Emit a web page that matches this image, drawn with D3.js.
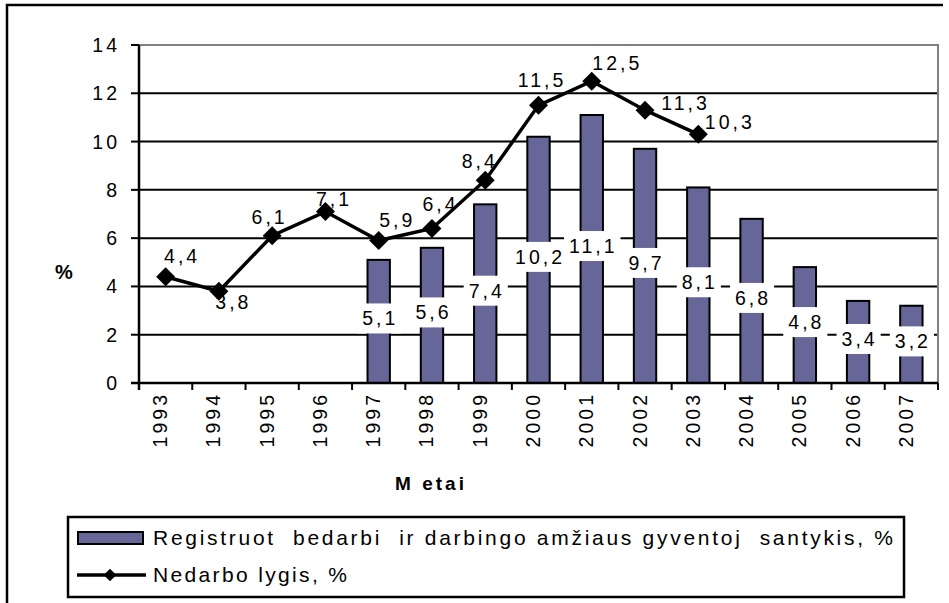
<!DOCTYPE html>
<html>
<head>
<meta charset="utf-8">
<script src="https://cdn.jsdelivr.net/npm/d3@7"></script>
<style>
  body { margin: 0; background: #fff; }
  svg { display: block; font-family: "Liberation Sans", Arial, sans-serif; }
  .num { font-size: 19.5px; letter-spacing: 3px; fill: #000; }
</style>
</head>
<body>
<svg id="chart" width="949" height="603"></svg>
<script>
// data
const years = ["1993","1994","1995","1996","1997","1998","1999","2000","2001","2002","2003","2004","2005","2006","2007"];
const ratio = [null, null, null, null, 5.1, 5.6, 7.4, 10.2, 11.1, 9.7, 8.1, 6.8, 4.8, 3.4, 3.2];
const unemployment = [4.4, 3.8, 6.1, 7.1, 5.9, 6.4, 8.4, 11.5, 12.5, 11.3, 10.3, null, null, null, null];
const yTicks = [0, 2, 4, 6, 8, 10, 12, 14];
const seriesNames = ["Registruot  bedarbi  ir darbingo amžiaus gyventoj  santykis, %", "Nedarbo lygis, %"];

// where each line label sits relative to its marker (as Excel placed them)
const lineLabelNudge = [[15,-21],[13,11],[-4,-19],[7,-13],[17,-21],[7,-25],[-7,-19],[2,-25],[24,-18],[39,-7],[30,-12]];

const fmt = v => String(v).replace(".", ",");
const barColor = "#666699";

const svg = d3.select("#chart");
const plot = { left: 139, top: 45, right: 938, bottom: 383 };

const x = d3.scaleBand().domain(years).range([plot.left, plot.right]);
const y = d3.scaleLinear().domain([0, 14]).range([plot.bottom, plot.top]);

// outer frame (left + top only are visible)
svg.append("path")
  .attr("d", "M7,603V5H943")
  .attr("fill", "none").attr("stroke", "#000").attr("stroke-width", 2.5);

// gridlines
svg.append("g").selectAll("line")
  .data(yTicks.filter(t => t > 0 && t < 14))
  .join("line")
    .attr("x1", plot.left).attr("x2", plot.right)
    .attr("y1", d => y(d)).attr("y2", d => y(d))
    .attr("stroke", "#000").attr("stroke-width", 2);

// plot area frame top / right (gray)
svg.append("path")
  .attr("d", `M${plot.left},${y(14)}H${plot.right}V${plot.bottom}`)
  .attr("fill", "none").attr("stroke", "#808080").attr("stroke-width", 2);

// bars
const barW = x.bandwidth() * 0.42;
const barData = years.map((yr, i) => ({ yr, v: ratio[i] })).filter(d => d.v != null);
svg.append("g").selectAll("rect")
  .data(barData)
  .join("rect")
    .attr("x", d => x(d.yr) + x.bandwidth() / 2 - barW / 2)
    .attr("y", d => y(d.v))
    .attr("width", barW)
    .attr("height", d => y(0) - y(d.v))
    .attr("fill", barColor).attr("stroke", "#000").attr("stroke-width", 2);

// bar value labels with white boxes, at bar middle
const barLab = svg.append("g").selectAll("g")
  .data(barData)
  .join("g")
    .attr("transform", d => `translate(${x(d.yr) + x.bandwidth() / 2},${y(d.v / 2) - 3})`);
barLab.append("rect").attr("fill", "#fff");
barLab.append("text")
  .attr("class", "num")
  .attr("text-anchor", "middle")
  .attr("dx", 1.5)
  .attr("dy", "0.36em")
  .text(d => fmt(d.v));
barLab.each(function() {
  const g = d3.select(this);
  const b = g.select("text").node().getBBox();
  g.select("rect")
    .attr("x", b.x - 5).attr("y", b.y - 4)
    .attr("width", b.width + 8).attr("height", b.height + 8);
});

// y axis
svg.append("line")
  .attr("x1", plot.left).attr("x2", plot.left)
  .attr("y1", y(14)).attr("y2", plot.bottom + 7)
  .attr("stroke", "#000").attr("stroke-width", 2.5);
const yt = svg.append("g").selectAll("g").data(yTicks).join("g")
  .attr("transform", d => `translate(0,${y(d)})`);
yt.append("line").attr("x1", plot.left - 8).attr("x2", plot.left)
  .attr("stroke", "#000").attr("stroke-width", 2);
yt.append("text").attr("class", "num")
  .attr("x", 120).attr("dy", "0.36em").attr("text-anchor", "end")
  .text(d => d);

// x axis
svg.append("line")
  .attr("x1", plot.left - 8).attr("x2", plot.right)
  .attr("y1", plot.bottom).attr("y2", plot.bottom)
  .attr("stroke", "#000").attr("stroke-width", 2.5);
svg.append("g").selectAll("line")
  .data(years.map(d => x(d)).concat([plot.right]))
  .join("line")
    .attr("x1", d => d).attr("x2", d => d)
    .attr("y1", plot.bottom).attr("y2", plot.bottom + 7)
    .attr("stroke", "#000").attr("stroke-width", 2);
svg.append("g").selectAll("text")
  .data(years)
  .join("text")
    .attr("class", "num")
    .attr("text-anchor", "end")
    .attr("transform", d => `translate(${x(d) + x.bandwidth() / 2 + 1.5},${plot.bottom + 9}) rotate(-90)`)
    .text(d => d);

// axis titles
svg.append("text")
  .attr("x", 64).attr("y", 279).attr("text-anchor", "middle")
  .attr("font-size", 20).attr("font-weight", "bold")
  .text("%");
svg.append("text")
  .attr("x", 431).attr("y", 490).attr("text-anchor", "middle")
  .attr("font-size", 19).attr("font-weight", "bold").attr("letter-spacing", "3px")
  .attr("xml:space", "preserve").style("white-space", "pre")
  .text("M etai");

// line series
const lineData = years.map((yr, i) => ({ yr, v: unemployment[i], i })).filter(d => d.v != null);
const cx = d => x(d.yr) + x.bandwidth() / 2;
svg.append("g").selectAll("text")
  .data(lineData)
  .join("text")
    .attr("class", "num")
    .attr("text-anchor", "middle")
    .attr("x", d => cx(d) + lineLabelNudge[d.i][0] + 1.5)
    .attr("y", d => y(d.v) + lineLabelNudge[d.i][1])
    .attr("dy", "0.36em")
    .text(d => fmt(d.v));
svg.append("path")
  .datum(lineData)
  .attr("d", d3.line().x(cx).y(d => y(d.v)))
  .attr("fill", "none").attr("stroke", "#000").attr("stroke-width", 3.5);
const diamond = d3.symbol(d3.symbolSquare, 180);
svg.append("g").selectAll("path")
  .data(lineData)
  .join("path")
    .attr("transform", d => `translate(${cx(d)},${y(d.v)}) rotate(45)`)
    .attr("d", diamond)
    .attr("fill", "#000");

// legend
const lg = svg.append("g");
lg.append("rect")
  .attr("x", 68).attr("y", 517).attr("width", 836).attr("height", 80)
  .attr("fill", "#fff").attr("stroke", "#000").attr("stroke-width", 2.5);
lg.append("rect")
  .attr("x", 78).attr("y", 532).attr("width", 65).attr("height", 12)
  .attr("fill", barColor).attr("stroke", "#000").attr("stroke-width", 2);
lg.append("line")
  .attr("x1", 77).attr("x2", 146).attr("y1", 575).attr("y2", 575)
  .attr("stroke", "#000").attr("stroke-width", 3.5);
lg.append("path")
  .attr("transform", "translate(110,575) rotate(45)")
  .attr("d", d3.symbol(d3.symbolSquare, 80))
  .attr("fill", "#000");
lg.selectAll("text.leg")
  .data(seriesNames)
  .join("text")
    .attr("class", "leg")
    .attr("x", 153)
    .attr("y", (d, i) => 545 + i * 37)
    .attr("font-size", 21)
    .attr("xml:space", "preserve").style("white-space", "pre")
    .attr("textLength", (d, i) => i === 0 ? 740 : 194)
    .attr("lengthAdjust", "spacing")
    .text(d => d);
</script>
</body>
</html>
